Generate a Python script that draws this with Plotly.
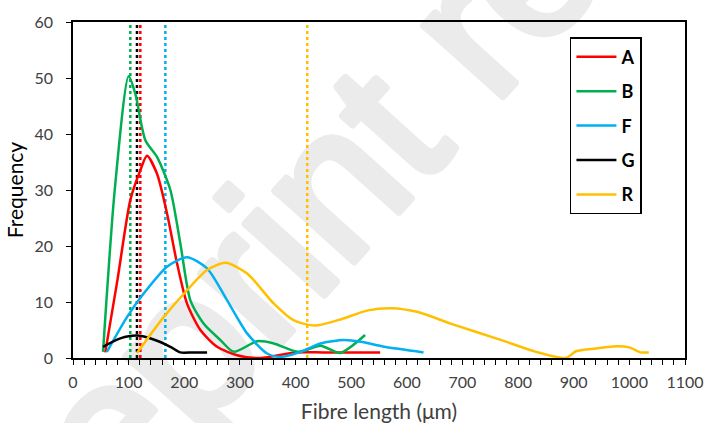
import base64
import plotly.graph_objects as go

# ---- data ----
A_x = [58, 80, 103, 121, 133, 151, 169, 187, 205, 229, 259, 295, 337, 400, 450, 500, 552]
A_y = [1.0, 14, 28.2, 33.5, 36.1, 32.9, 25.8, 16.9, 9.7, 5.0, 2.0, 0.5, 0.0, 1.0, 1.0, 1.0, 1.0]

B_x = [54, 75, 100, 112, 130, 151, 175, 193, 211, 235, 265, 289, 331, 361, 405, 445, 480, 525]
B_y = [1.1, 30, 50.3, 47.2, 38.9, 35.9, 30.0, 20.4, 10.3, 6.1, 3.2, 1.1, 3.0, 2.6, 1.1, 2.2, 0.9, 4.1]

F_x = [61, 97, 127, 169, 205, 241, 277, 313, 349, 373, 409, 445, 487, 517, 560, 630]
F_y = [1.1, 7.3, 11.5, 16.3, 18.0, 16.0, 10.3, 4.4, 0.8, 0.2, 1.1, 2.6, 3.2, 2.9, 2.0, 1.0]

G_x = [54, 85, 115, 145, 175, 193, 215, 241]
G_y = [2.0, 3.5, 4.0, 3.3, 2.0, 1.0, 1.0, 1.0]

R_x = [115, 163, 205, 241, 274, 313, 361, 397, 435, 478, 530, 572, 620, 680, 770, 832, 886, 904, 940, 976, 1000, 1020, 1035]
R_y = [0.9, 7.3, 12.1, 15.7, 17.0, 15.1, 9.7, 6.7, 5.8, 6.8, 8.5, 8.9, 8.2, 6.1, 3.2, 1.1, 0.0, 1.2, 1.7, 2.1, 1.9, 1.0, 1.0]

names = ["A", "B", "F", "G", "R"]
colors = ["#FF0000", "#00B050", "#00B0F0", "#000000", "#FFC000"]
means = [121, 103, 166, 115, 421]
series_x = [A_x, B_x, F_x, G_x, R_x]
series_y = [A_y, B_y, F_y, G_y, R_y]

watermark_text = "Preprint research"

fig = go.Figure()

# mean lines (dotted)
for n, c, m in zip(names, colors, means):
    fig.add_trace(go.Scatter(x=[m, m], y=[0, 60], mode="lines",
                             line=dict(color=c, width=2.5, dash="dot"),
                             showlegend=False, hoverinfo="skip"))

for n, c, xs, ys in zip(names, colors, series_x, series_y):
    fig.add_trace(go.Scatter(x=xs, y=ys, mode="lines", name=n, legendgroup=n,
                             line=dict(color=c, width=2.5, shape="spline", smoothing=0.7)))

# watermark as a background image (drawn below the traces)
W, H = 704, 423
svg = (f'<svg xmlns="http://www.w3.org/2000/svg" width="{W}" height="{H}" viewBox="0 0 {W} {H}">'
       f'<text x="-12" y="668" transform="rotate(-48 -12 668)" '
       f'font-family="Liberation Sans, Arial, sans-serif" font-size="200" fill="#ebebeb" '
       f'stroke="#ebebeb" stroke-width="8" stroke-linejoin="round">'
       f'{watermark_text}</text></svg>')
src = "data:image/svg+xml;base64," + base64.b64encode(svg.encode()).decode()

L, R, T, B = 73, 19, 22, 65
pw, ph = W - L - R, H - T - B
fig.add_layout_image(dict(source=src, xref="paper", yref="paper",
                          x=-L / pw, y=1 + T / ph, sizex=W / pw, sizey=H / ph,
                          xanchor="left", yanchor="top", sizing="stretch", layer="below"))

font_family = "Lato, 'Open Sans', sans-serif"
fig.update_layout(
    width=W, height=H,
    margin=dict(l=L, r=R, t=T, b=B, autoexpand=False),
    paper_bgcolor="white", plot_bgcolor="rgba(0,0,0,0)",
    font=dict(family=font_family, color="#404040", size=16),
    showlegend=True,
    legend=dict(x=0.812, y=0.955, xanchor="left", yanchor="top",
                bordercolor="#000000", borderwidth=1.5, bgcolor="white",
                font=dict(size=18, color="#000000", family=font_family, weight="bold"),
                tracegroupgap=8, itemwidth=40),
    xaxis=dict(range=[0, 1100], tickmode="linear", tick0=0, dtick=100, automargin=False,
               showline=True, linecolor="#000000", linewidth=1.5, mirror=True,
               ticks="outside", ticklen=5, tickcolor="#000000", ticklabelstandoff=4,
               minor=dict(dtick=20, ticks="outside", ticklen=5, tickcolor="#000000"),
               showgrid=False, zeroline=False,
               title=dict(text="Fibre length (μm)", font=dict(size=21, color="#404040"), standoff=21)),
    yaxis=dict(range=[0, 60], tickmode="linear", tick0=0, dtick=10, automargin=False,
               showline=True, linecolor="#000000", linewidth=1.5, mirror=True,
               ticks="outside", ticklen=5, tickcolor="#000000", ticklabelstandoff=10,
               showgrid=False, zeroline=False,
               title=dict(text="Frequency", font=dict(size=21, color="#000000"), standoff=5)),
)

fig.write_html("out.html")
